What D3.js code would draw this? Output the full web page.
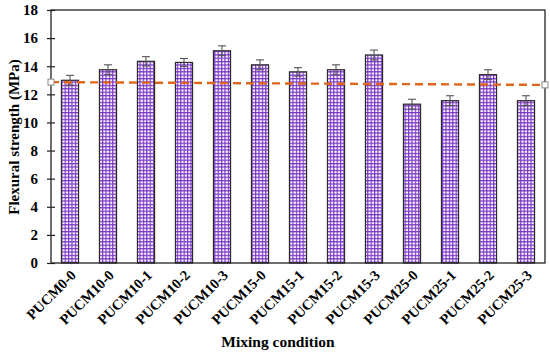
<!DOCTYPE html>
<html>
<head>
<meta charset="utf-8">
<script src="https://cdn.jsdelivr.net/npm/d3@7"></script>
<style>
  body { margin: 0; background: #fff; }
  text { font-family: "Liberation Serif", "Times New Roman", serif; font-weight: bold; fill: #000; }
</style>
</head>
<body>
<svg id="chart"></svg>
<script>
/*
    DATA
*/
var conditions = ["PUCM0-0", "PUCM10-0", "PUCM10-1", "PUCM10-2", "PUCM10-3", "PUCM15-0", "PUCM15-1",
                  "PUCM15-2", "PUCM15-3", "PUCM25-0", "PUCM25-1", "PUCM25-2", "PUCM25-3"];
var strength = [13.0, 13.75, 14.35, 14.27, 15.1, 14.1, 13.6, 13.75, 14.8, 11.3, 11.55, 13.4, 11.55];
var stdev    = [0.35, 0.35, 0.33, 0.28, 0.35, 0.35, 0.3, 0.35, 0.35, 0.35, 0.35, 0.35, 0.35];
var refLine  = [12.87, 12.67];   // dashed reference, left end / right end
var yTicks   = [0, 2, 4, 6, 8, 10, 12, 14, 16, 18];

/*
    LAYOUT
*/
var width = 550, height = 354;
var margin = {top: 10, right: 5, bottom: 91, left: 51};
var w = width - margin.left - margin.right;
var h = height - margin.top - margin.bottom;

var svg = d3.select("#chart").attr("width", width).attr("height", height);

// grid hatch for the bars
var defs = svg.append("defs");
var pat = defs.append("pattern")
    .attr("id", "grid")
    .attr("patternUnits", "userSpaceOnUse")
    .attr("width", 3.4).attr("height", 3.4);
pat.append("rect").attr("width", 3.4).attr("height", 3.4).attr("fill", "#fff");
pat.append("path").attr("d", "M0,0.6H3.4M0.6,0V3.4")
    .attr("stroke", "#7a36c4").attr("stroke-width", 1.2);

var chart = svg.append("g")
    .attr("transform", "translate(" + margin.left + "," + margin.top + ")");

var x = d3.scaleBand().domain(conditions).range([0, w]).paddingInner(0.55).paddingOuter(0.275);
var y = d3.scaleLinear().domain([0, 18]).range([h, 0]);

// bars
chart.selectAll(".bar")
  .data(conditions)
  .enter().append("rect")
    .attr("class", "bar")
    .attr("x", function(d) { return x(d); })
    .attr("y", function(d, i) { return y(strength[i]); })
    .attr("width", x.bandwidth())
    .attr("height", function(d, i) { return h - y(strength[i]); })
    .attr("fill", "url(#grid)")
    .attr("stroke", "#2a2a2a")
    .attr("stroke-width", 1.2);

// error bars
var err = chart.selectAll(".err")
  .data(conditions)
  .enter().append("g")
    .attr("class", "err")
    .attr("stroke", "#555")
    .attr("stroke-width", 1.1);
err.append("line")
    .attr("x1", function(d) { return x(d) + x.bandwidth() / 2; })
    .attr("x2", function(d) { return x(d) + x.bandwidth() / 2; })
    .attr("y1", function(d, i) { return y(strength[i] - stdev[i]); })
    .attr("y2", function(d, i) { return y(strength[i] + stdev[i]); });
[-1, 1].forEach(function(s) {
  err.append("line")
    .attr("x1", function(d) { return x(d) + x.bandwidth() / 2 - 4; })
    .attr("x2", function(d) { return x(d) + x.bandwidth() / 2 + 4; })
    .attr("y1", function(d, i) { return y(strength[i] + s * stdev[i]); })
    .attr("y2", function(d, i) { return y(strength[i] + s * stdev[i]); });
});

// frame
chart.append("rect")
    .attr("width", w).attr("height", h)
    .attr("fill", "none").attr("stroke", "#222").attr("stroke-width", 1.3);

// y axis
var yAxis = chart.append("g")
    .call(d3.axisLeft(y).tickValues(yTicks).tickSize(4).tickPadding(9).tickFormat(d3.format("d")));
yAxis.select(".domain").remove();
yAxis.selectAll(".tick line").attr("x2", 4).attr("x1", -4).attr("stroke", "#222").attr("stroke-width", 1.2);
yAxis.selectAll("text").style("font-size", "15px").style("font-family", "Liberation Serif").style("font-weight", "bold");

// dashed reference line with end markers
var ends = [0, w];
chart.append("line")
    .attr("x1", ends[0]).attr("x2", ends[1])
    .attr("y1", y(refLine[0])).attr("y2", y(refLine[1]))
    .attr("stroke", "#e0661c").attr("stroke-width", 2.4)
    .attr("stroke-dasharray", "8,5");
chart.selectAll(".mk")
  .data(refLine)
  .enter().append("rect")
    .attr("class", "mk")
    .attr("x", function(d, i) { return ends[i] - 3; })
    .attr("y", function(d) { return y(d) - 3; })
    .attr("width", 6).attr("height", 6)
    .attr("fill", "#fff").attr("stroke", "#888").attr("stroke-width", 1);

// x tick labels
chart.selectAll(".xlab")
  .data(conditions)
  .enter().append("text")
    .attr("class", "xlab")
    .attr("transform", function(d) {
      return "translate(" + (x(d) + x.bandwidth() / 2 + 7) + "," + (h + 13) + ") rotate(-45)";
    })
    .attr("text-anchor", "end")
    .style("font-size", "14.5px")
    .text(function(d) { return d; });

// axis titles
svg.append("text")
    .attr("x", 278).attr("y", 347)
    .attr("text-anchor", "middle")
    .style("font-size", "15.5px")
    .text("Mixing condition");

svg.append("text")
    .attr("transform", "translate(19,137) rotate(-90)")
    .attr("text-anchor", "middle")
    .style("font-size", "15px")
    .text("Flexural strength (MPa)");
</script>
</body>
</html>
